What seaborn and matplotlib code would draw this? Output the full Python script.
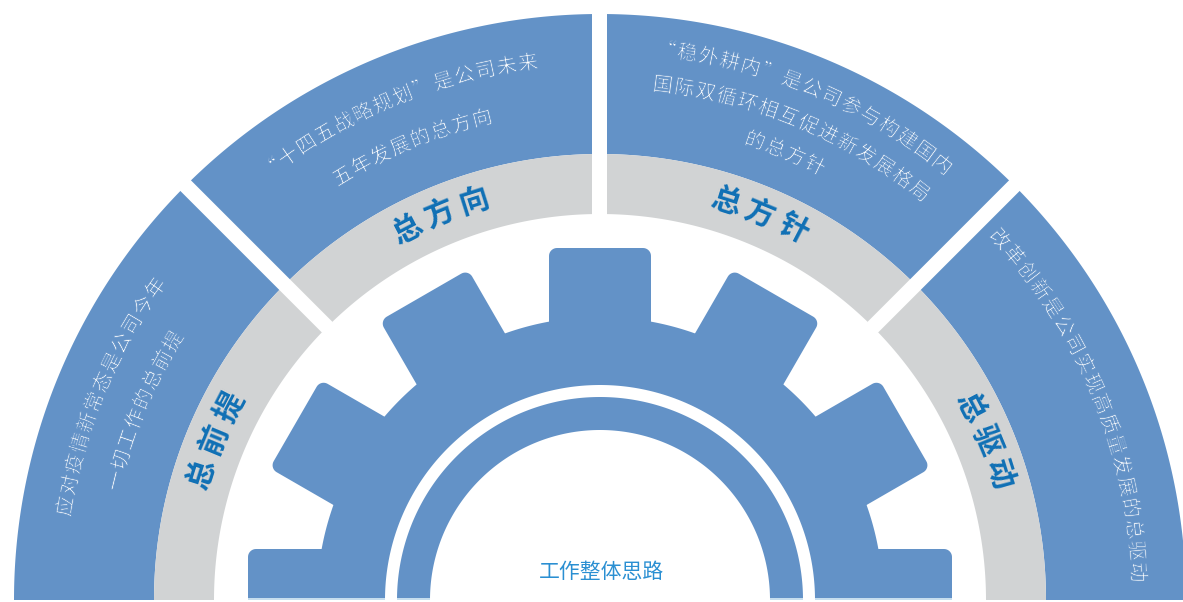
import numpy as np
import matplotlib
matplotlib.use("Agg")
import matplotlib.pyplot as plt
import matplotlib.patheffects as pe
import seaborn as sns
from matplotlib.patches import Polygon, Rectangle

# ---------------- data ----------------
sector_titles = ["总前提", "总方向", "总方针", "总驱动"]
sector_text_left = ["应对疫情新常态是公司今年", "一切工作的总前提"]
sector_text_topleft = ["“十四五战略规划”是公司未来", "五年发展的总方向"]
sector_text_topright = ["“稳外耕内”是公司参与构建国内", "国际双循环相互促进新发展格局", "的总方针"]
sector_text_right = ["改革创新是公司实现高质量发展的总驱动"]
sector_texts = [sector_text_left, sector_text_topleft, sector_text_topright, sector_text_right]
center_label = "工作整体思路"
gear_tooth_count = 12

# ---------------- layout / style ----------------
sns.set_theme(style="white")
plt.rcParams['font.family'] = ['Noto Sans CJK SC', 'DejaVu Sans']

W, H = 1183, 602
cx, cy = 600.0, 600.0
R_OUT, R_BLUE_IN, R_GRAY_IN = 586, 446, 386
R_TIP, R_ROOT, TOOTH_HW, R_BODY_IN = 352, 283, 51, 215
R_RING_OUT, R_RING_IN = 203, 170
GAP_HW = 7.5
line_radii = [[542, 498], [541, 495], [553, 518, 484], [538]]
title_r = 418

BLUE = "#6392c7"
GRAY = "#d1d3d4"
TITLE_BLUE = "#0f70b5"
LABEL_BLUE = "#2a8fd2"
STRIP = "#c7deee"

fig = plt.figure(figsize=(W / 100, H / 100), dpi=100)
ax = fig.add_axes([0, 0, 1, 1])
ax.set_xlim(0, W)
ax.set_ylim(H, 0)
ax.axis("off")


def pt(r, deg):
    t = np.deg2rad(deg)
    return cx + r * np.cos(t), cy - r * np.sin(t)


def annulus(r_out, r_in, a0=0.0, a1=180.0, n=400):
    t = np.linspace(a0, a1, n)
    xo, yo = pt(r_out, t)
    xi, yi = pt(r_in, t[::-1])
    return np.column_stack([np.concatenate([xo, xi]), np.concatenate([yo, yi])])


def local(u, v, deg):
    t = np.deg2rad(deg)
    er = np.array([np.cos(t), -np.sin(t)])
    et = np.array([np.sin(t), np.cos(t)])
    return np.array([cx, cy]) + u * er + v * et


clip_rect = Rectangle((0, 0), W, cy, transform=ax.transData)

# outer blue ring and gray ring
ax.add_patch(Polygon(annulus(R_OUT, R_BLUE_IN), closed=True, fc=BLUE, ec="none"))
ax.add_patch(Polygon(annulus(R_BLUE_IN, R_GRAY_IN), closed=True, fc=GRAY, ec="none"))

# white gaps between sectors
n_sec = len(sector_titles)
step = 180.0 / n_sec
for k in range(1, n_sec):
    a = 180.0 - k * step
    corners = [local(R_GRAY_IN - 10, -GAP_HW, a), local(R_OUT + 20, -GAP_HW, a),
               local(R_OUT + 20, GAP_HW, a), local(R_GRAY_IN - 10, GAP_HW, a)]
    ax.add_patch(Polygon(corners, closed=True, fc="white", ec="none"))

# gear body
body = Polygon(annulus(R_ROOT, 0.0001), closed=True, fc=BLUE, ec="none")
ax.add_patch(body)
rc = 8
tooth_step = 360.0 / gear_tooth_count
for k in range(gear_tooth_count // 2 + 1):
    a = k * tooth_step
    pts = [local(R_ROOT - 60, -TOOTH_HW, a), local(R_TIP - rc, -TOOTH_HW, a)]
    for t in np.linspace(-90, 0, 10):
        tt = np.deg2rad(t)
        pts.append(local(R_TIP - rc + rc * np.cos(tt), -TOOTH_HW + rc + rc * np.sin(tt), a))
    for t in np.linspace(0, 90, 10):
        tt = np.deg2rad(t)
        pts.append(local(R_TIP - rc + rc * np.cos(tt), TOOTH_HW - rc + rc * np.sin(tt), a))
    pts.append(local(R_ROOT - 60, TOOTH_HW, a))
    p = Polygon(pts, closed=True, fc=BLUE, ec="none")
    ax.add_patch(p)
    p.set_clip_path(clip_rect)

ax.add_patch(Polygon(annulus(R_BODY_IN, 0.0001), closed=True, fc="white", ec="none"))
ax.add_patch(Polygon(annulus(R_RING_OUT, R_RING_IN), closed=True, fc=BLUE, ec="none"))

# light strip at the bottom of the gear parts
for x0, x1 in [(cx - R_TIP, cx - R_BODY_IN), (cx - R_RING_OUT, cx - R_RING_IN),
               (cx + R_RING_IN, cx + R_RING_OUT), (cx + R_BODY_IN, cx + R_TIP)]:
    ax.add_patch(Rectangle((x0, cy - 2.5), x1 - x0, 2.5, fc=STRIP, ec="none"))

# thin-looking white text: fill in white, then trim the outline with the background blue
thin = [pe.Stroke(linewidth=0.55, foreground=BLUE)]


def arc_text(s, r, center_deg, spacing, **kw):
    n = len(s)
    d = np.rad2deg(spacing / r)
    for i, ch in enumerate(s):
        a = center_deg + (n - 1) / 2 * d - i * d
        x, y = pt(r, a)
        ax.text(x, y, ch, rotation=a - 90, rotation_mode="anchor",
                ha="center", va="center", **kw)


for i, (title, lines) in enumerate(zip(sector_titles, sector_texts)):
    c = 180.0 - (i + 0.5) * step
    arc_text(title, title_r, c, 36.5, fontsize=21.5, fontweight="bold", color=TITLE_BLUE)
    for line, r in zip(lines, line_radii[i]):
        arc_text(line, r, c, 21.6, fontsize=14.5, fontweight="light", color="white",
                 path_effects=thin)

ax.text(cx + 2, 572, center_label, ha="center", va="center", fontsize=15, color=LABEL_BLUE)

fig.savefig("out.png", dpi=100, facecolor="white")
